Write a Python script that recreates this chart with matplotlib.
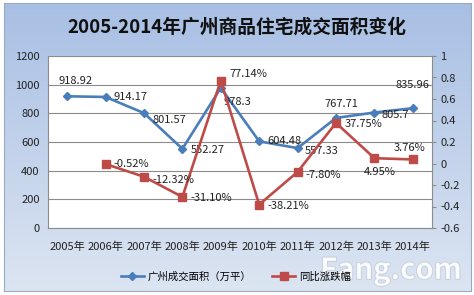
import numpy as np
import matplotlib.pyplot as plt
import matplotlib.patheffects as pe
from matplotlib.colors import LinearSegmentedColormap

plt.rcParams['font.family'] = ['Noto Sans CJK SC', 'DejaVu Sans']

# data
years = ['2005年', '2006年', '2007年', '2008年', '2009年',
         '2010年', '2011年', '2012年', '2013年', '2014年']
area = [918.92, 914.17, 801.57, 552.27, 978.3, 604.48, 557.33, 767.71, 805.7, 835.96]
area_labels = ['918.92', '914.17', '801.57', '552.27', '978.3',
               '604.48', '557.33', '767.71', '805.7', '835.96']
yoy = [np.nan, -0.0052, -0.1232, -0.311, 0.7714, -0.3821, -0.078, 0.3775, 0.0495, 0.0376]
yoy_labels = ['', '-0.52%', '-12.32%', '-31.10%', '77.14%',
              '-38.21%', '-7.80%', '37.75%', '4.95%', '3.76%']

blue = '#4a7ebb'
red = '#be4b48'

fig = plt.figure(figsize=(4.74, 2.95), dpi=100, facecolor='white')

# chart area background with gradient
bg = fig.add_axes([4 / 474, 1 - 291 / 295, 467 / 474, 288 / 295])
cmap = LinearSegmentedColormap.from_list('bg', ['#a8bfe4', '#dce5f2'])
bg.imshow(np.linspace(0, 1, 200).reshape(-1, 1), aspect='auto', cmap=cmap,
          extent=[0, 1, 0, 1])
bg.set_xticks([])
bg.set_yticks([])
for s in bg.spines.values():
    s.set_color('#9aaac0')
    s.set_linewidth(0.8)

fig.text(0.5, 1 - 27 / 295, '2005-2014年广州商品住宅成交面积变化', ha='center', va='center',
         fontsize=13.5, fontweight='bold', color='#111111')

ax = fig.add_axes([48 / 474, 1 - 228 / 295, 384 / 474, 172 / 295])
ax.set_facecolor('white')
x = np.arange(len(years))
ax.plot(x, area, color=blue, lw=1.9, marker='D', ms=4, zorder=3)
ax.set_ylim(0, 1200)
ax.set_yticks(range(0, 1201, 200))
ax.set_xlim(-0.5, len(years) - 0.5)
ax.set_xticks(x)
ax.set_xticklabels(years)
ax.yaxis.grid(True, color='#8c8c8c', lw=0.8)
ax.set_axisbelow(True)
ax.tick_params(axis='both', labelsize=8, length=0, colors='#222222', pad=6)
ax.tick_params(axis='x', pad=10)
ax.spines['top'].set_visible(False)
for k in ['left', 'bottom', 'right']:
    ax.spines[k].set_color('#8c8c8c')
    ax.spines[k].set_linewidth(0.8)

ax2 = ax.twinx()
ax2.plot(x, yoy, color=red, lw=1.9, marker='s', ms=6, zorder=3)
ax2.set_ylim(-0.6, 1.0)
ax2.set_yticks(np.arange(-0.6, 1.01, 0.2))
ax2.set_yticklabels(['-0.6', '-0.4', '-0.2', '0', '0.2', '0.4', '0.6', '0.8', '1'])
ax2.tick_params(axis='y', labelsize=8, length=3, colors='#222222', pad=3)
ax2.tick_params(axis='y', color='#8c8c8c')
for s in ax2.spines.values():
    s.set_visible(False)

area_off = [(6, 11, 'center'), (6, 0, 'left'), (6, -5, 'left'), (6, -1, 'left'),
            (2, -10, 'left'), (6, 0, 'left'), (5, -2, 'left'), (4, 10, 'center'),
            (5, -2, 'left'), (0, 17, 'center')]
for i, (v, lab) in enumerate(zip(area, area_labels)):
    dx, dy, ha = area_off[i]
    ax.annotate(lab, (x[i], v), xytext=(dx, dy), textcoords='offset points',
                ha=ha, va='center', fontsize=8, color='#222222', zorder=5)

yoy_off = [None, (6, 0, 'left'), (6, -2, 'left'), (6, -1, 'left'), (6, 5, 'left'),
           (6, -1, 'left'), (6, -2, 'left'), (6, -1, 'left'), (4, -10, 'center'),
           (-2, 8, 'center')]
for i, (v, lab) in enumerate(zip(yoy, yoy_labels)):
    if not lab:
        continue
    dx, dy, ha = yoy_off[i]
    ax2.annotate(lab, (x[i], v), xytext=(dx, dy), textcoords='offset points',
                 ha=ha, va='center', fontsize=8, color='#222222', zorder=5)

h1, = ax.plot([], [], color=blue, lw=1.9, marker='D', ms=4)
h2, = ax.plot([], [], color=red, lw=1.9, marker='s', ms=6)
fig.legend([h1, h2], ['广州成交面积（万平）', '同比涨跌幅'], loc='center',
           bbox_to_anchor=(236 / 474, 1 - 277 / 295), ncol=2, frameon=False,
           fontsize=7.5, handlelength=2.2, columnspacing=2.0, handletextpad=0.4)

# watermark
fig.text(391 / 474, 1 - 270 / 295, 'Fang.com', ha='center', va='center', fontsize=21,
         fontweight='bold', color='white', alpha=0.7,
         path_effects=[pe.withStroke(linewidth=1.0, foreground='#b8c0cc')])

fig.savefig('out.png', dpi=100)
